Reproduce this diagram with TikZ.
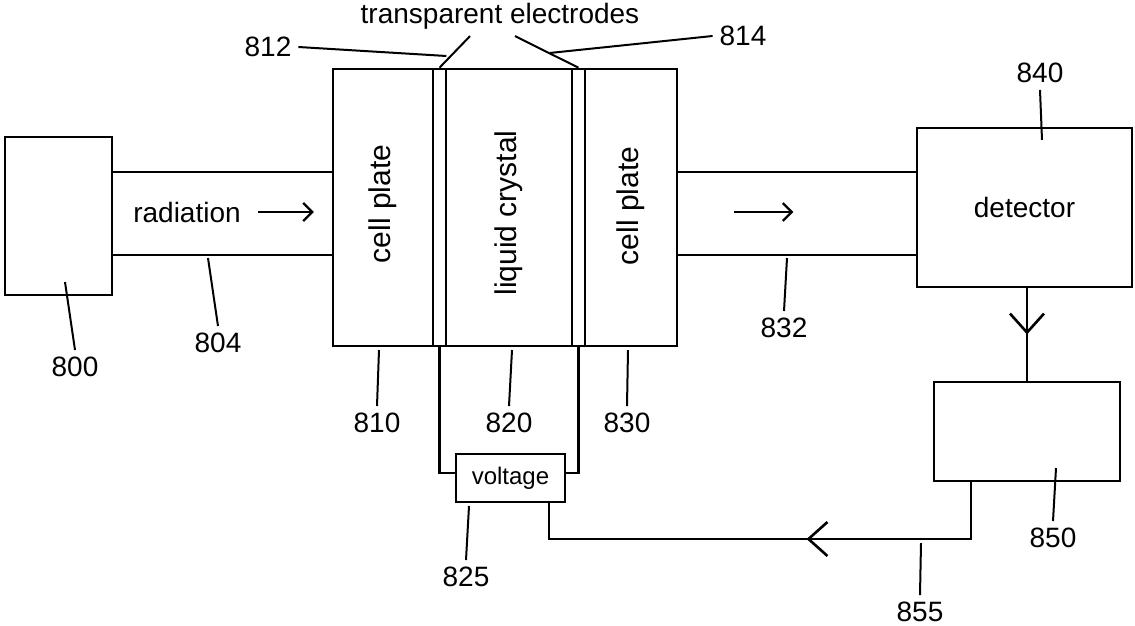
\documentclass[tikz,border=0pt]{standalone}
\usepackage{fontspec}
\setmainfont{Liberation Sans}
\usetikzlibrary{arrows.meta}
\usetikzlibrary{decorations.markings}

\begin{document}
\begin{tikzpicture}[
		x=0.5pt, y=-0.5pt,
		font=\fontsize{14}{16}\selectfont,
		blk/.style = {rectangle, draw, line width=1.3pt, inner sep=0pt},
		vtext/.style = {rotate=90, font=\fontsize{15}{17}\selectfont},
		wire/.style = {line width=1.3pt},
		lead/.style = {line width=1pt},
		flow/.style = {-{Straight Barb[length=4.5pt, width=9pt]}, line width=1.1pt},
		midflow/.style = {wire, postaction={decorate}, decoration={markings, mark=at position #1 with {\arrow{Straight Barb[length=9.5pt, width=17pt, line width=1.3pt]}}}}
		]
		\useasboundingbox (0,0) rectangle (1135,626);
		
		%Nodes
		\node[blk, minimum width=53.5pt, minimum height=79pt]	(src)		at	(58.5,216)		{};
		\node[blk, minimum width=50pt, minimum height=138.5pt]	(plateL)	at	(383,207.5)		{};
		\node[blk, minimum width=6.5pt, minimum height=138.5pt]	(elecL)		at	(439.5,207.5)	{};
		\node[blk, minimum width=63pt, minimum height=138.5pt]	(lc)		at	(509,207.5)		{};
		\node[blk, minimum width=6.5pt, minimum height=138.5pt]	(elecR)		at	(578.5,207.5)	{};
		\node[blk, minimum width=46pt, minimum height=138.5pt]	(plateR)	at	(631,207.5)		{};
		\node[blk, minimum width=107.5pt, minimum height=79.5pt]	(det)	at	(1024.5,207.5)	{detector};
		\node[blk, minimum width=93pt, minimum height=49.5pt]	(ctrl)		at	(1027,431.5)	{};
		\node[blk, minimum width=54.5pt, minimum height=24pt, font=\fontsize{12}{14}\selectfont]	(volt)	at	(510.5,478)	{voltage};
		
		\node[vtext]	(tPlateL)	at	(plateL |- 0,204)	{cell plate};
		\node[vtext]	(tLc)		at	(lc |- 0,213)		{liquid crystal};
		\node[vtext]	(tPlateR)	at	(plateR |- 0,206)	{cell plate};
		\node	(rad)	at	(187,212)	{radiation};
		\node	(title)	at	(500,16)	{transparent electrodes};
		
		\coordinate	(beamT)	at	(0,172);
		\coordinate	(beamB)	at	(0,255);
		\coordinate	(fbR)	at	(971,539);
		\coordinate	(fbL)	at	(549,539);
		
		%Lines
		\draw[wire]	(src.east |- beamT)	--	(plateL.west |- beamT);
		\draw[wire]	(src.east |- beamB)	--	(plateL.west |- beamB);
		\draw[wire]	(plateR.east |- beamT)	--	(det.west |- beamT);
		\draw[wire]	(plateR.east |- beamB)	--	(det.west |- beamB);
		\draw[flow]	([xshift=5pt]rad.east)	--	++(56,0);
		\draw[flow]	(plateR.east |- rad)	++(56,0)	--	++(59,0);
		\draw[wire]	(elecL.south)	|-	([yshift=2.5pt]volt.west);
		\draw[wire]	(elecR.south)	|-	([yshift=2.5pt]volt.east);
		\draw[midflow=0.5]	(det.south -| ctrl)	--	(ctrl.north);
		\draw[midflow=0.43]	(ctrl.south -| fbR)	--	(fbR)	--	(fbL)	--	(volt.south -| fbL);
		
		%Labels
		\draw[lead]	([xshift=-15pt]title.south)	--	(elecL.north);
		\draw[lead]	([xshift=7.5pt]title.south)	--	(elecR.north);
		\node	(n812)	at	(268,47)	{812};
		\draw[lead]	(n812.east)	--	++(148,9);
		\node	(n814)	at	(743,36)	{814};
		\draw[lead]	(n814.west)	--	++(-163,17);
		\node	(n800)	at	(75,367)	{800};
		\draw[lead]	(n800.north)	--	++(-10,-68);
		\node	(n804)	at	(218,343)	{804};
		\draw[lead]	(n804.north)	--	++(-10,-68);
		\node	(n810)	at	(377,423)	{810};
		\draw[lead]	(n810.north)	--	++(2,-56);
		\node	(n820)	at	(509,423)	{820};
		\draw[lead]	(n820.north)	--	++(3,-56);
		\node	(n830)	at	(627,423)	{830};
		\draw[lead]	(n830.north)	--	++(1,-56);
		\node	(n825)	at	(466,577)	{825};
		\draw[lead]	(n825.north)	--	++(3,-54);
		\node	(n832)	at	(784,328)	{832};
		\draw[lead]	(n832.north)	--	++(3,-53);
		\node	(n840)	at	(1040,73)	{840};
		\draw[lead]	(n840.south)	--	++(2,50);
		\node	(n850)	at	(1053,538)	{850};
		\draw[lead]	(n850.north)	--	++(3,-53);
		\node	(n855)	at	(920,612)	{855};
		\draw[lead]	(n855.north)	--	++(1,-52);
	\end{tikzpicture}
\end{document}
